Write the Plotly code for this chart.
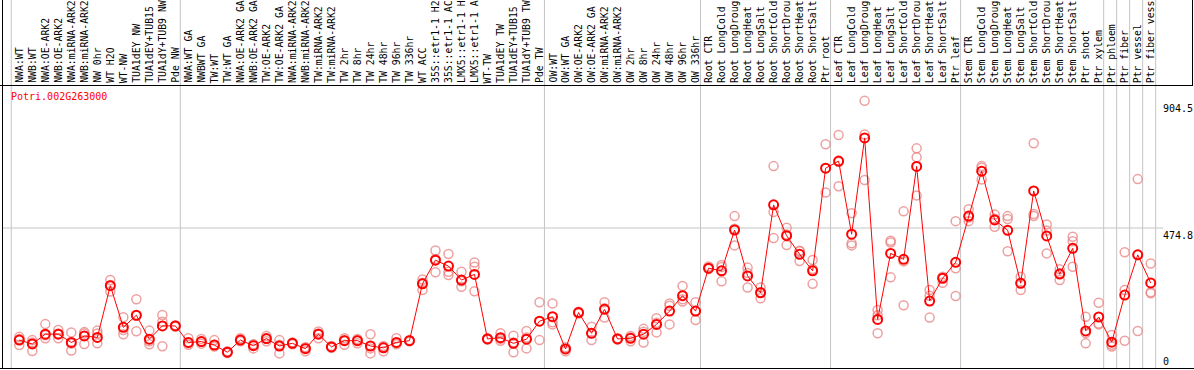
import plotly.graph_objects as go

# ---------------- data ----------------
group_labels = [
    ["NWA:WT", "NWB:WT", "NWA:OE-ARK2", "NWB:OE-ARK2", "NWA:miRNA-ARK2", "NWB:miRNA-ARK2",
     "NW 0hr", "WT H2O", "WT-NW", "TUA1dEY NW", "TUA1dEY+TUB15", "TUA1dY+TUB9 NW", "Pde NW"],
    ["NWA:WT GA", "NWBWT GA", "TW:WT", "TW:WT GA", "NWA:OE-ARK2 GA", "NWB:OE-ARK2 GA",
     "TW:OE-ARK2", "TW:OE-ARK2 GA", "NWA:miRNA-ARK2", "NWB:miRNA-ARK2", "TW:miRNA-ARK2",
     "TW:miRNA-ARK2", "TW 2hr", "TW 8hr", "TW 24hr", "TW 48hr", "TW 96hr", "TW 336hr",
     "WT ACC", "35S::etr1-1 H2", "35S::etr1-1 AC", "LMX5::etr1-1 H", "LMX5::etr1-1 A",
     "WT-TW", "TUA1dEY TW", "TUA1dEY+TUB15", "TUA1dY+TUB9 TW", "Pde TW"],
    ["OW:WT", "OW:WT GA", "OW:OE-ARK2", "OW:OE-ARK2 GA", "OW:miRNA-ARK2", "OW:miRNA-ARK2",
     "OW 2hr", "OW 8hr", "OW 24hr", "OW 48hr", "OW 96hr", "OW 336hr"],
    ["Root CTR", "Root LongCold", "Root LongDroug", "Root LongHeat", "Root LongSalt",
     "Root ShortCold", "Root ShortDrou", "Root ShortHeat", "Root ShortSalt", "Ptr root"],
    ["Leaf CTR", "Leaf LongCold", "Leaf LongDroug", "Leaf LongHeat", "Leaf LongSalt",
     "Leaf ShortCold", "Leaf ShortDrou", "Leaf ShortHeat", "Leaf ShortSalt", "Ptr leaf"],
    ["Stem CTR", "Stem LongCold", "Stem LongDroug", "Stem LongHeat", "Stem LongSalt",
     "Stem ShortCold", "Stem ShortDrou", "Stem ShortHeat", "Stem ShortSalt", "Ptr shoot",
     "Ptr xylem"],
    ["Ptr phloem"],
    ["Ptr fiber"],
    ["Ptr vessel"],
    ["Ptr fiber vess"],
]

mean_values = [
    96, 83, 116, 116, 88, 110, 105, 280, 139, 180, 99, 144, 144,
    88, 91, 79, 55, 96, 77, 101, 76, 85, 67, 116, 73, 94, 94, 76, 70, 88, 94,
    286, 366, 346, 299, 318, 100, 104, 85, 99, 160,
    175, 66, 189, 119, 200, 100, 102, 116, 149, 194, 246, 194,
    339, 330, 468, 313, 256, 553, 449, 386, 330, 677,
    701, 454, 779, 166, 389, 369, 683, 228, 305, 359,
    515, 667, 502, 467, 288, 600, 448, 319, 406, 127, 174,
    89, 248, 384, 289,
]

rep_a = [
    107, 96, 150, 130, 122, 123, 128, 299, 173, 234, 128, 181, 144,
    102, 100, 96, 55, 102, 68, 110, 96, 85, 58, 125, 73, 102, 85, 116, 58, 102, 94,
    301, 399, 387, 327, 358, 100, 119, 111, 127, 224,
    220, 58, 189, 141, 224, 100, 110, 134, 170, 220, 279, 224,
    345, 350, 515, 341, 274, 684, 476, 398, 367, 758,
    789, 525, 904.5, 198, 432, 531, 744, 265, 290, 498,
    538, 684, 479, 515, 310, 761, 487, 335, 445, 175, 222,
    113, 393, 640, 355,
]
rep_b = [
    79, 59, 102, 102, 61, 83, 85, 260, 116, 126, 82, 158, 142,
    80, 84, 74, 52, 96, 80, 92, 51, 82, 70, 102, 70, 80, 96, 51, 72, 82, 96,
    265, 325, 327, 276, 344, 98, 100, 55, 105, 96,
    149, 66, 186, 96, 172, 98, 92, 88, 122, 149, 226, 164,
    336, 295, 416, 274, 237, 529, 417, 363, 286, 595,
    616, 423, 637, 119, 308, 214, 714, 172, 310, 339,
    498, 639, 520, 505, 265, 522, 466, 299, 430, 85, 149,
    74, 265, 127, 254,
]
rep_c = [
    100, 88, 112, 118, 84, 118, 118, 282, 130, 178, 92, 75, 146,
    86, 90, 80, 58, 92, 82, 100, 80, 88, 72, 118, 76, 96, 100, 68, 76, 86, 92,
    290, 370, 316, 295, 261, 102, 94, 88, 68, 160,
    156, 72, 192, 120, 204, 102, 104, 124, 155, 212, 234, 194,
    338, 343, 472, 323, 258, 441, 453, 396, 336, 677,
    698, 416, 791, 180, 426, 362, 585, 246, 305, 245,
    510, 678, 506, 396, 290, 515, 389, 322, 344, 120, 152,
    80, 94, 384, 258,
]

gene_id = "Potri.002G263000"
y_tick_values = [904.5, 474.8, 0]
y_tick_text = ["904.5", "474.8", "0"]

# ---------------- derived ----------------
categories = [lab for g in group_labels for lab in g]
idx = list(range(len(categories)))

# figure geometry (pixels)
W, H = 1194, 370
ML, MR, MT, MB = 2, 1, 85, 1
PW, PH = W - ML - MR, H - MT - MB
X0_PX, DX_PX = 19.3, 13.005          # pixel of first category, pixel spacing
Y0_PX, K_PX = 368.5, 140.5 / 474.8    # pixel of value 0, pixels per unit

x_lo = (ML - X0_PX) / DX_PX
x_hi = (ML + PW - X0_PX) / DX_PX
y_lo = (Y0_PX - (MT + PH)) / K_PX
y_hi = (Y0_PX - MT) / K_PX


def px_x(p):
    return (p - ML) / PW


def px_y(p):
    return (MT + PH - p) / PH


FONT = "DejaVu Sans Mono"
GRID = "#c4c4c4"

fig = go.Figure()

rx = idx * 3
ry = rep_a + rep_b + rep_c
fig.add_trace(go.Scatter(
    x=rx, y=ry, mode="markers",
    marker=dict(symbol="circle-open", size=9, color="rgba(232,128,128,0.75)",
                line=dict(width=1.5)),
    hoverinfo="skip", showlegend=False))

fig.add_trace(go.Scatter(
    x=idx, y=mean_values, mode="lines+markers",
    line=dict(color="#ff0000", width=1),
    marker=dict(symbol="circle-open", size=9, color="#ff0000", line=dict(width=2)),
    showlegend=False))

shapes = []
# vertical group separators
bounds = [-0.62]
pos = -1
for g in group_labels:
    pos += len(g)
    bounds.append(pos + 0.38)
for b in bounds:
    shapes.append(dict(type="line", xref="x", yref="paper", x0=b, x1=b,
                       y0=0, y1=px_y(0), line=dict(color=GRID, width=1), layer="below"))
# horizontal gridline
shapes.append(dict(type="line", xref="paper", yref="y", x0=0, x1=px_x(1163),
                   y0=y_tick_values[1], y1=y_tick_values[1],
                   line=dict(color=GRID, width=1), layer="below"))
# black frame lines
shapes.append(dict(type="line", xref="paper", yref="paper", x0=px_x(0), x1=px_x(1193),
                   y0=px_y(85.5), y1=px_y(85.5), line=dict(color="black", width=1)))
shapes.append(dict(type="line", xref="paper", yref="paper", x0=px_x(2.5), x1=px_x(2.5),
                   y0=px_y(369), y1=px_y(0), line=dict(color="black", width=1)))
shapes.append(dict(type="line", xref="paper", yref="paper", x0=px_x(1192.5), x1=px_x(1192.5),
                   y0=px_y(85.5), y1=px_y(0), line=dict(color="black", width=1)))
shapes.append(dict(type="line", xref="paper", yref="paper", x0=px_x(0), x1=px_x(1194),
                   y0=px_y(368.5), y1=px_y(368.5), line=dict(color="black", width=1)))

annotations = []
for i, lab in enumerate(categories):
    annotations.append(dict(x=i, xref="x", y=1, yref="paper", text=lab, textangle=-90,
                            xanchor="center", yanchor="bottom", yshift=1, showarrow=False,
                            borderpad=0,
                            font=dict(family=FONT, size=9.8, color="black")))
annotations.append(dict(x=px_x(9), xref="paper", y=px_y(89), yref="paper", text=gene_id,
                        xanchor="left", yanchor="top", showarrow=False,
                        font=dict(family=FONT, size=10, color="#ff0000")))
for v, t in zip(y_tick_values, y_tick_text):
    annotations.append(dict(x=px_x(1161), xref="paper", y=v, yref="y", text=t,
                            xanchor="left", yanchor="bottom" if v == 0 else "top",
                            showarrow=False,
                            font=dict(family=FONT, size=10, color="black")))

fig.update_layout(
    width=W, height=H,
    margin=dict(l=ML, r=MR, t=MT, b=MB, pad=0),
    paper_bgcolor="white", plot_bgcolor="white",
    xaxis=dict(range=[x_lo, x_hi], visible=False, fixedrange=True),
    yaxis=dict(range=[y_lo, y_hi], visible=False, fixedrange=True),
    shapes=shapes, annotations=annotations,
    showlegend=False,
)

fig.write_html("out.html",
               config={"displayModeBar": False},
               post_script="document.body.style.margin='0';document.body.style.overflow='hidden';")
